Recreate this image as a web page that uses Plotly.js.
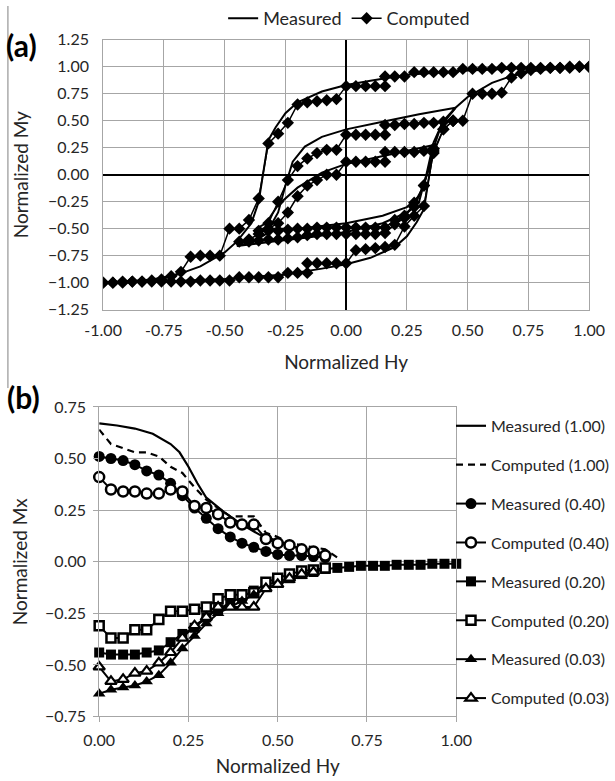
<!DOCTYPE html>
<html><head><meta charset="utf-8">
<script src="https://cdn.plot.ly/plotly-3.0.1.min.js"></script>
<style>html,body{margin:0;padding:0;background:#fff;}#chart{width:615px;height:781px;}</style>
</head><body><div id="chart"></div>
<script>
// ---------- Panel (a): normalized My vs Hy ----------
// Measured loops (lines)
const mMajDescH = [1.00,0.75,0.50,0.25,0.10,0.00,-0.10,-0.20,-0.25,-0.29,-0.32,-0.34,-0.36,-0.39,-0.45,-0.50,-0.60,-0.70,-0.80,-0.90,-1.00];
const mMajDescM = [1.00,0.99,0.965,0.925,0.87,0.83,0.77,0.67,0.57,0.44,0.32,0.05,-0.25,-0.45,-0.62,-0.72,-0.85,-0.93,-0.97,-0.99,-1.00];
const mMajAscH  = [-1.00,-0.75,-0.50,-0.25,-0.10,0.00,0.10,0.20,0.25,0.29,0.32,0.34,0.36,0.39,0.45,0.50,0.60,0.70,0.80,0.90,1.00];
const mMajAscM  = [-1.00,-0.99,-0.965,-0.925,-0.87,-0.83,-0.77,-0.67,-0.57,-0.44,-0.32,-0.05,0.25,0.45,0.62,0.72,0.85,0.93,0.97,0.99,1.00];
const mL2H = [0.45,0.30,0.15,0.00,-0.10,-0.17,-0.22,-0.25,-0.28,-0.33,-0.38,-0.45,-0.30,-0.15,0.00,0.15,0.25,0.30,0.33,0.36,0.40,0.45];
const mL2M = [0.62,0.56,0.49,0.42,0.35,0.26,0.12,-0.10,-0.35,-0.55,-0.62,-0.66,-0.62,-0.58,-0.53,-0.45,-0.35,-0.25,0.00,0.30,0.50,0.62];
const mL3H = [0.37,0.25,0.10,0.00,-0.10,-0.20,-0.28,-0.33,-0.37,-0.20,0.00,0.15,0.25,0.30,0.34,0.37];
const mL3M = [0.28,0.22,0.15,0.10,0.02,-0.12,-0.28,-0.45,-0.50,-0.50,-0.45,-0.38,-0.30,-0.20,0.05,0.28];

// Computed loops (diamonds)
const cMajDescH = [1.00,0.96,0.92,0.88,0.84,0.80,0.76,0.72,0.68,0.64,0.60,0.56,0.52,0.48,0.44,0.40,0.36,0.32,0.28,0.24,0.20,0.16,0.16,0.12,0.08,0.04,0.00,-0.04,-0.08,-0.12,-0.16,-0.20,-0.24,-0.28,-0.32,-0.36,-0.40,-0.44,-0.48,-0.52,-0.56,-0.60,-0.64,-0.68,-0.72,-0.76,-0.80,-0.84,-0.88,-0.92,-0.96,-1.00];
const cMajDescM = [1.00,1.00,0.99,0.99,0.99,0.99,0.99,0.99,0.99,0.99,0.98,0.98,0.98,0.98,0.95,0.95,0.95,0.95,0.95,0.91,0.91,0.91,0.82,0.82,0.82,0.82,0.82,0.70,0.69,0.68,0.67,0.65,0.48,0.38,0.29,-0.22,-0.42,-0.50,-0.50,-0.75,-0.75,-0.75,-0.76,-0.90,-0.94,-0.97,-0.98,-0.99,-0.99,-1.00,-1.00,-1.00];
const cMajAscH  = [-1.00,-0.96,-0.92,-0.88,-0.84,-0.80,-0.76,-0.72,-0.68,-0.64,-0.60,-0.56,-0.52,-0.48,-0.44,-0.40,-0.36,-0.32,-0.28,-0.24,-0.20,-0.16,-0.16,-0.12,-0.08,-0.04,0.00,0.04,0.08,0.12,0.16,0.20,0.24,0.28,0.32,0.36,0.40,0.44,0.48,0.52,0.56,0.60,0.64,0.68,0.72,0.76,0.80,0.84,0.88,0.92,0.96,1.00];
const cMajAscM  = [-1.00,-1.00,-0.99,-0.99,-0.99,-0.99,-0.99,-0.99,-0.99,-0.99,-0.98,-0.98,-0.98,-0.98,-0.95,-0.95,-0.95,-0.95,-0.95,-0.91,-0.91,-0.91,-0.82,-0.82,-0.82,-0.82,-0.82,-0.70,-0.69,-0.68,-0.67,-0.65,-0.48,-0.38,-0.29,0.22,0.42,0.50,0.50,0.75,0.75,0.75,0.76,0.90,0.94,0.97,0.98,0.99,0.99,1.00,1.00,1.00];
const cL2H = [0.44,0.40,0.36,0.32,0.28,0.24,0.20,0.16,0.16,0.12,0.08,0.04,0.00,-0.04,-0.08,-0.12,-0.16,-0.20,-0.24,-0.28,-0.32,-0.36,-0.40,-0.44,-0.40,-0.36,-0.32,-0.28,-0.24,-0.20,-0.16,-0.12,-0.08,-0.04,0.00,0.04,0.08,0.12,0.16,0.20,0.24,0.28,0.32,0.36,0.40,0.44];
const cL2M = [0.50,0.49,0.48,0.48,0.47,0.47,0.46,0.46,0.37,0.37,0.37,0.37,0.37,0.23,0.23,0.20,0.15,0.08,-0.05,-0.25,-0.45,-0.55,-0.60,-0.62,-0.62,-0.61,-0.60,-0.60,-0.59,-0.58,-0.56,-0.55,-0.55,-0.55,-0.55,-0.55,-0.55,-0.55,-0.54,-0.46,-0.40,-0.26,-0.10,0.20,0.42,0.50];
const cL3H = [0.36,0.32,0.28,0.24,0.20,0.16,0.16,0.12,0.08,0.04,0.00,-0.04,-0.08,-0.12,-0.16,-0.20,-0.24,-0.28,-0.32,-0.36,-0.32,-0.28,-0.24,-0.20,-0.16,-0.12,-0.08,-0.04,0.00,0.04,0.08,0.12,0.16,0.20,0.24,0.28,0.32,0.36];
const cL3M = [0.24,0.22,0.21,0.21,0.21,0.21,0.12,0.12,0.12,0.12,0.12,0.00,0.00,-0.05,-0.10,-0.20,-0.35,-0.45,-0.50,-0.52,-0.52,-0.52,-0.51,-0.50,-0.50,-0.49,-0.49,-0.49,-0.49,-0.49,-0.49,-0.49,-0.49,-0.42,-0.38,-0.30,-0.10,0.24];

// ---------- Panel (b): normalized Mx vs Hy ----------
const m100H = [0.00,0.05,0.10,0.15,0.20,0.225,0.25,0.275,0.30,0.35,0.40,0.45,0.50,0.55,0.60,0.65];
const m100M = [0.67,0.66,0.645,0.62,0.57,0.53,0.46,0.38,0.31,0.24,0.18,0.13,0.10,0.07,0.05,0.03];
const c100H = [0.00,0.033,0.067,0.10,0.133,0.167,0.20,0.233,0.267,0.30,0.333,0.367,0.40,0.433,0.467,0.50,0.533,0.567,0.60,0.633,0.667];
const c100M = [0.64,0.57,0.55,0.53,0.53,0.51,0.46,0.43,0.36,0.30,0.26,0.22,0.22,0.22,0.14,0.12,0.09,0.08,0.07,0.06,0.02];
const m040H = [0.00,0.033,0.067,0.10,0.133,0.167,0.20,0.233,0.267,0.30,0.333,0.367,0.40,0.433,0.467,0.50,0.533,0.567,0.60,0.633];
const m040M = [0.51,0.50,0.49,0.47,0.44,0.42,0.38,0.32,0.26,0.21,0.16,0.12,0.09,0.07,0.05,0.035,0.03,0.03,0.025,0.02];
const c040H = [0.00,0.033,0.067,0.10,0.133,0.167,0.20,0.233,0.267,0.30,0.333,0.367,0.40,0.433,0.467,0.50,0.533,0.567,0.60,0.633];
const c040M = [0.41,0.35,0.34,0.34,0.33,0.33,0.35,0.34,0.27,0.26,0.23,0.19,0.18,0.18,0.11,0.09,0.08,0.06,0.05,0.03];
const m020H = [0.00,0.033,0.067,0.10,0.133,0.167,0.20,0.233,0.267,0.30,0.333,0.367,0.40,0.433,0.467,0.50,0.533,0.567,0.60,0.633,0.667,0.70,0.733,0.767,0.80,0.833,0.867,0.90,0.933,0.967,1.00];
const m020M = [-0.44,-0.45,-0.45,-0.45,-0.44,-0.43,-0.39,-0.35,-0.32,-0.27,-0.23,-0.20,-0.17,-0.14,-0.11,-0.10,-0.08,-0.06,-0.05,-0.035,-0.03,-0.025,-0.02,-0.02,-0.02,-0.015,-0.015,-0.015,-0.01,-0.01,-0.01];
const c020H = [0.00,0.033,0.067,0.10,0.133,0.167,0.20,0.233,0.267,0.30,0.333,0.367,0.40,0.433,0.467,0.50,0.533,0.567,0.60,0.633];
const c020M = [-0.31,-0.37,-0.37,-0.33,-0.33,-0.28,-0.24,-0.24,-0.23,-0.22,-0.18,-0.16,-0.16,-0.15,-0.10,-0.08,-0.06,-0.045,-0.04,-0.03];
const m003H = [0.00,0.033,0.067,0.10,0.133,0.167,0.20,0.233,0.267,0.30,0.333,0.367,0.40,0.433,0.467,0.50,0.533,0.567,0.60];
const m003M = [-0.64,-0.62,-0.61,-0.60,-0.58,-0.55,-0.49,-0.42,-0.36,-0.30,-0.25,-0.22,-0.19,-0.16,-0.13,-0.11,-0.09,-0.07,-0.05];
const c003H = [0.00,0.033,0.067,0.10,0.133,0.167,0.20,0.233,0.267,0.30,0.333,0.367,0.40,0.433,0.467,0.50,0.533,0.567,0.60];
const c003M = [-0.51,-0.58,-0.57,-0.54,-0.53,-0.49,-0.44,-0.37,-0.31,-0.27,-0.22,-0.22,-0.22,-0.22,-0.13,-0.11,-0.08,-0.06,-0.05];

const tickA = ['-1.00','-0.75','-0.50','-0.25','0.00','0.25','0.50','0.75','1.00'];

const W = 615, Hgt = 781;
const fx = p => p / W, fy = p => 1 - p / Hgt;
const K = '#000000';
const FONT = 'Lato, "Open Sans", sans-serif';

const traces = [];
function meas(h, m, show) {
  traces.push({x: h, y: m, type: 'scatter', mode: 'lines', name: 'Measured', showlegend: show,
    legend: 'legend', legendgroup: 'am', line: {color: K, width: 2}, xaxis: 'x', yaxis: 'y', hoverinfo: 'skip'});
}
function comp(h, m, show) {
  traces.push({x: h, y: m, type: 'scatter', mode: 'lines+markers', name: 'Computed', showlegend: show,
    legend: 'legend', legendgroup: 'ac', line: {color: K, width: 1.5},
    marker: {symbol: 'diamond', size: 9.5, color: K}, xaxis: 'x', yaxis: 'y', hoverinfo: 'skip'});
}
meas(mMajDescH, mMajDescM, true); meas(mMajAscH, mMajAscM, false);
meas(mL2H, mL2M, false); meas(mL3H, mL3M, false);
comp(cMajDescH, cMajDescM, true); comp(cMajAscH, cMajAscM, false);
comp(cL2H, cL2M, false); comp(cL3H, cL3M, false);

function bser(h, m, name, mode, line, marker, g) {
  const t = {x: h, y: m, type: 'scatter', mode: mode, name: name, legend: 'legend2', legendgroup: g,
    line: line, xaxis: 'x2', yaxis: 'y2', hoverinfo: 'skip', cliponaxis: false};
  if (marker) t.marker = marker;
  traces.push(t);
}
bser(m100H, m100M, 'Measured (1.00)', 'lines', {color: K, width: 2.2}, null, 'b1');
bser(c100H, c100M, 'Computed (1.00)', 'lines', {color: K, width: 2.2, dash: '7px,5px'}, null, 'b2');
bser(m040H, m040M, 'Measured (0.40)', 'lines+markers', {color: K, width: 2}, {symbol: 'circle', size: 11, color: K}, 'b3');
bser(c040H, c040M, 'Computed (0.40)', 'lines+markers', {color: K, width: 2}, {symbol: 'circle', size: 10, color: '#fff', line: {color: K, width: 2.5}}, 'b4');
bser(m020H, m020M, 'Measured (0.20)', 'lines+markers', {color: K, width: 2}, {symbol: 'square', size: 10, color: K}, 'b5');
bser(c020H, c020M, 'Computed (0.20)', 'lines+markers', {color: K, width: 2}, {symbol: 'square', size: 9, color: '#fff', line: {color: K, width: 2.5}}, 'b6');
bser(m003H, m003M, 'Measured (0.03)', 'lines+markers', {color: K, width: 2}, {symbol: 'triangle-up', size: 11, color: K}, 'b7');
bser(c003H, c003M, 'Computed (0.03)', 'lines+markers', {color: K, width: 2}, {symbol: 'triangle-up', size: 10, color: '#fff', line: {color: K, width: 2.2}}, 'b8');

const grid = '#a6a6a6';
const axBase = {showgrid: true, gridcolor: grid, gridwidth: 1, showline: true, mirror: true,
  linecolor: grid, linewidth: 1, ticks: '', tickformat: '.2f', fixedrange: true,
  tickfont: {family: FONT, size: 16, color: '#262626'}};

const layout = {
  width: W, height: Hgt, margin: {l: 0, r: 0, t: 0, b: 0},
  paper_bgcolor: '#fff', plot_bgcolor: '#fff',
  font: {family: FONT, color: '#262626', size: 16},
  showlegend: true,
  xaxis: Object.assign({}, axBase, {domain: [fx(104), fx(594)], range: [-1, 1], tickmode: 'array',
    tickvals: [-1, -0.75, -0.5, -0.25, 0, 0.25, 0.5, 0.75, 1], ticktext: tickA,
    zeroline: true, zerolinecolor: K, zerolinewidth: 2, anchor: 'y', ticklabelstandoff: 6,
    title: {text: 'Normalized Hy', font: {family: FONT, size: 19, color: '#262626'}, standoff: 17}}),
  yaxis: Object.assign({}, axBase, {domain: [fy(306), fy(34)], range: [-1.25, 1.25], dtick: 0.25, tick0: 0,
    zeroline: true, zerolinecolor: K, zerolinewidth: 2, anchor: 'x', ticklabelstandoff: 10,
    title: {text: 'Normalized My', font: {family: FONT, size: 19, color: '#262626'}, standoff: 14}}),
  xaxis2: Object.assign({}, axBase, {domain: [fx(100), fx(460)], range: [0, 1], dtick: 0.25, tick0: 0,
    zeroline: false, anchor: 'y2', ticks: 'outside', ticklen: 5, tickcolor: grid, ticklabelstandoff: 4,
    title: {text: 'Normalized Hy', font: {family: FONT, size: 19, color: '#262626'}, standoff: 12}}),
  yaxis2: Object.assign({}, axBase, {domain: [fy(716), fy(404)], range: [-0.75, 0.75], dtick: 0.25, tick0: 0,
    zeroline: false, anchor: 'x2', ticks: 'outside', ticklen: 5, tickcolor: grid, ticklabelstandoff: 4,
    title: {text: 'Normalized Mx', font: {family: FONT, size: 19, color: '#262626'}, standoff: 12}}),
  legend: {orientation: 'h', x: fx(352), xanchor: 'center', y: 1.008, yanchor: 'top',
    font: {family: FONT, size: 18, color: '#262626'}, itemwidth: 30, bgcolor: 'rgba(0,0,0,0)',
    traceorder: 'normal'},
  legend2: {orientation: 'v', x: fx(455), xanchor: 'left', y: fy(406), yanchor: 'top',
    font: {family: FONT, size: 16, color: '#262626'}, itemwidth: 30, bgcolor: 'rgba(0,0,0,0)',
    traceorder: 'grouped', tracegroupgap: 15.1},
  annotations: [
    {xref: 'paper', yref: 'paper', x: fx(22), y: fy(39), xanchor: 'center', yanchor: 'middle',
      text: '<b>(a)</b>', showarrow: false, font: {family: FONT, size: 30, color: K}},
    {xref: 'paper', yref: 'paper', x: fx(24), y: fy(394), xanchor: 'center', yanchor: 'middle',
      text: '<b>(b)</b>', showarrow: false, font: {family: FONT, size: 30, color: K}}
  ],
  shapes: [
    {type: 'line', xref: 'paper', yref: 'paper', x0: fx(8), x1: fx(8), y0: fy(0), y1: fy(385),
      line: {color: '#808080', width: 1}}
  ]
};

Plotly.newPlot('chart', traces, layout, {displayModeBar: false, staticPlot: true});
</script></body></html>
